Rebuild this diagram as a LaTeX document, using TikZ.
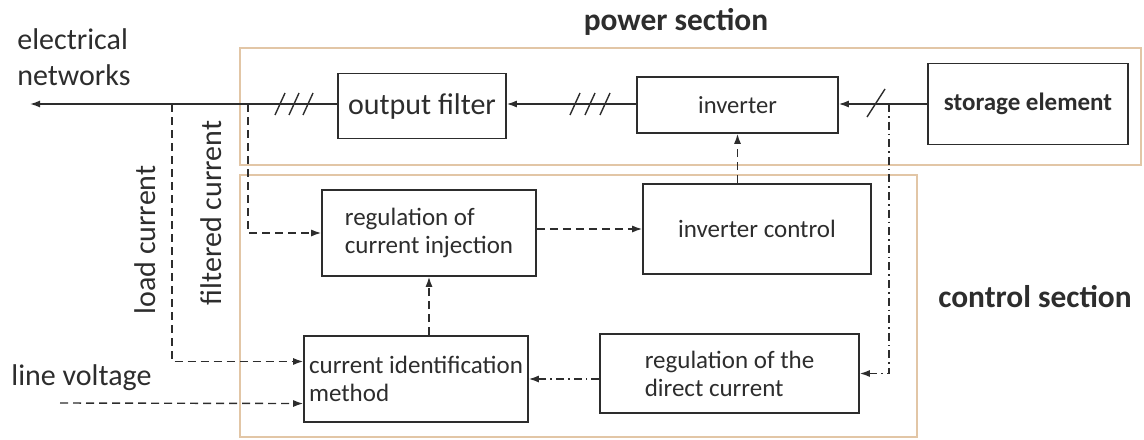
\documentclass[tikz,border=0pt]{standalone}
\usepackage{fontspec}
\setmainfont{Carlito}
\usepackage{xcolor}
\usetikzlibrary{arrows.meta,calc}
\definecolor{frame}{RGB}{226,198,166}
\definecolor{ink}{RGB}{45,45,45}

\begin{document}
\begin{tikzpicture}[
  x=0.5pt,y=-0.5pt,
  every node/.style={text=ink},
  box/.style={draw=ink,line width=0.8pt,align=left,inner sep=0pt,
    font=\fontsize{12.5}{14}\selectfont},
  section/.style={draw=frame,line width=1.3pt},
  title/.style={font=\fontsize{15.7}{18}\selectfont\bfseries},
  label/.style={font=\fontsize{15}{18}\selectfont,align=left,inner sep=0pt},
  arrow/.style={-{Latex[length=5pt,width=3.5pt]},draw=ink,line width=0.7pt},
  dashline/.style={arrow,dash pattern=on 4pt off 2.5pt},
  dotline/.style={arrow,dash pattern=on 4pt off 2pt on 0.8pt off 2pt},
  tick/.style={draw=ink,line width=0.7pt}
]
\useasboundingbox (0,0) rectangle (1144,439);

% sections
\draw[section] (240,48) rectangle (1141,165);
\draw[section] (240,175) rectangle (917,437);
\node[title] (power) at (676,22) {power section};
\node[title] (control) at (1035,297) {control section};

% power blocks
\node[box,minimum width=84pt,minimum height=32.5pt,
  font=\fontsize{15}{18}\selectfont] (filter) at (422,106) {output filter};
\node[box,minimum width=100.5pt,minimum height=28pt,
  font=\fontsize{12.3}{14}\selectfont] (inv) at (737.5,105) {inverter};
\node[box,minimum width=100pt,minimum height=40.5pt,
  font=\fontsize{12.5}{14}\selectfont\bfseries] (store) at (1028,104) {storage element};

% control blocks
\node[box,minimum width=107pt,minimum height=43pt] (regci) at (429,233)
  {regulation of\\current injection};
\node[box,minimum width=114pt,minimum height=45pt] (invc) at (757,229)
  {inverter control};
\node[box,minimum width=112pt,minimum height=43pt] (cim) at (416,379)
  {current identification\\method};
\node[box,minimum width=129.5pt,minimum height=39.5pt] (regdc) at (729.5,373.5)
  {regulation of the\\direct current};

% outside labels
\node[label,anchor=west] (net) at (17,57) {electrical\\networks};
\node[label,anchor=west] (lvtext) at (11,378) {line voltage};
\node[label,rotate=90] (loadtext) at (145,240) {load current};
\node[label,rotate=90] (filttext) at (211,213) {filtered current};

\coordinate (grid) at (30,104);
\coordinate (tapL) at (172,104);
\coordinate (tapF) at (248,104);
\coordinate (tapS) at (889,104);
\coordinate (lv) at (60,403);

% power flow
\draw[arrow] (filter.west |- grid) -- (grid);
\draw[arrow] (inv.west |- grid) -- (filter.east |- grid);
\draw[arrow] (store.west |- grid) -- (inv.east |- grid);
\foreach \x in {280,294,308,575,590,605}
  \draw[tick] (\x-5,115) -- (\x+5,93);
\draw[tick] (867,117) -- (885,89);

% measurements and control
\draw[dashline] (tapL) |- ($(cim.north west)!0.3!(cim.south west)$);
\draw[dashline] (tapF) |- (regci.west);
\draw[dashline] (lv) -- ($(cim.north west)!0.78!(cim.south west)$);
\draw[dashline] (regci.east |- invc.west) -- (invc.west);
\draw[dashline] (cim.north -| regci.south) -- (regci.south);
\draw[dashline] (inv.south |- invc.north) -- (inv.south);
\draw[dotline] (tapS) |- (regdc.east);
\draw[dotline] (regdc.west |- cim.east) -- (cim.east);
\end{tikzpicture}
\end{document}
